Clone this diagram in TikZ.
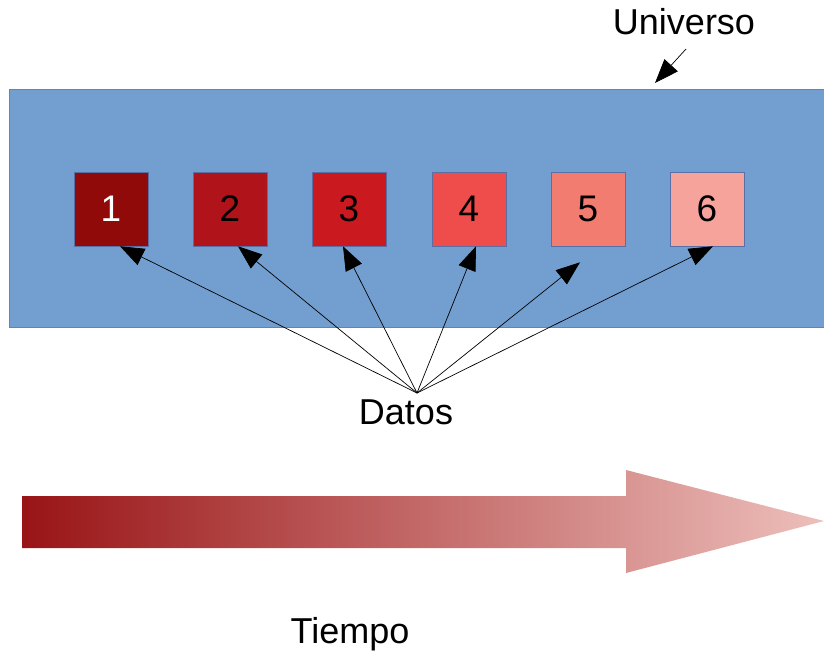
\documentclass[tikz,border=0pt]{standalone}
\usepackage{fontspec}
\setmainfont{Liberation Sans}
\usetikzlibrary{arrows.meta}
\definecolor{univfill}{HTML}{729FCF}
\definecolor{univline}{HTML}{5C85B8}
\definecolor{boxline}{HTML}{5A6FA6}
\definecolor{cA}{HTML}{900A0A}
\definecolor{cB}{HTML}{B0141A}
\definecolor{cC}{HTML}{CB1A1F}
\definecolor{cD}{HTML}{EF4C4C}
\definecolor{cE}{HTML}{F27C70}
\definecolor{cF}{HTML}{F5A39B}
\definecolor{arrL}{HTML}{991416}
\definecolor{arrR}{HTML}{EDBFBB}
\begin{document}
\begin{tikzpicture}[x=1pt,y=-1pt,
  lbl/.style={font=\fontsize{36}{40}\selectfont, inner sep=0pt},
  databox/.style={draw=boxline, line width=0.6pt, minimum width=74pt, minimum height=74pt, inner sep=0pt, font=\fontsize{37}{40}\selectfont},
  conn/.style={draw=black, line width=0.7pt, -{Triangle[length=24pt,width=18pt]}}
]
\useasboundingbox (0,0) rectangle (824,652);
% universe
\path[fill=univfill, draw=univline, line width=0.8pt] (9,89) rectangle (826,327);
% boxes
\node[databox, fill=cA, text=white] (b1) at (111,209) {1};
\node[databox, fill=cB] (b2) at (230,209) {2};
\node[databox, fill=cC] (b3) at (349,209) {3};
\node[databox, fill=cD] (b4) at (469,209) {4};
\node[databox, fill=cE] (b5) at (588,209) {5};
\node[databox, fill=cF] (b6) at (707,209) {6};
% labels
\node[lbl, anchor=base] (univ) at (684,35) {Universo};
\node[lbl, anchor=base] (datos) at (406,424) {Datos};
\node[lbl, anchor=base] (tiempo) at (350,643) {Tiempo};
% arrows
\coordinate (ut) at (686,49);
\draw[conn] (ut) -- (655,83);
\coordinate (d) at (417,393);
\draw[conn] (d) -- ([xshift=9pt]b1.south);
\draw[conn] (d) -- ([xshift=8pt]b2.south);
\draw[conn] (d) -- ([xshift=-6pt]b3.south);
\draw[conn] (d) -- ([xshift=7pt]b4.south);
\draw[conn] (d) -- ([xshift=-8pt,yshift=-16pt]b5.south);
\draw[conn] (d) -- ([xshift=6pt]b6.south);
% time arrow
\shade[left color=arrL, right color=arrR]
  (22,496) -- (626,496) -- (626,470) -- (824,521) -- (626,573) -- (626,548) -- (22,548) -- cycle;
\end{tikzpicture}
\end{document}
